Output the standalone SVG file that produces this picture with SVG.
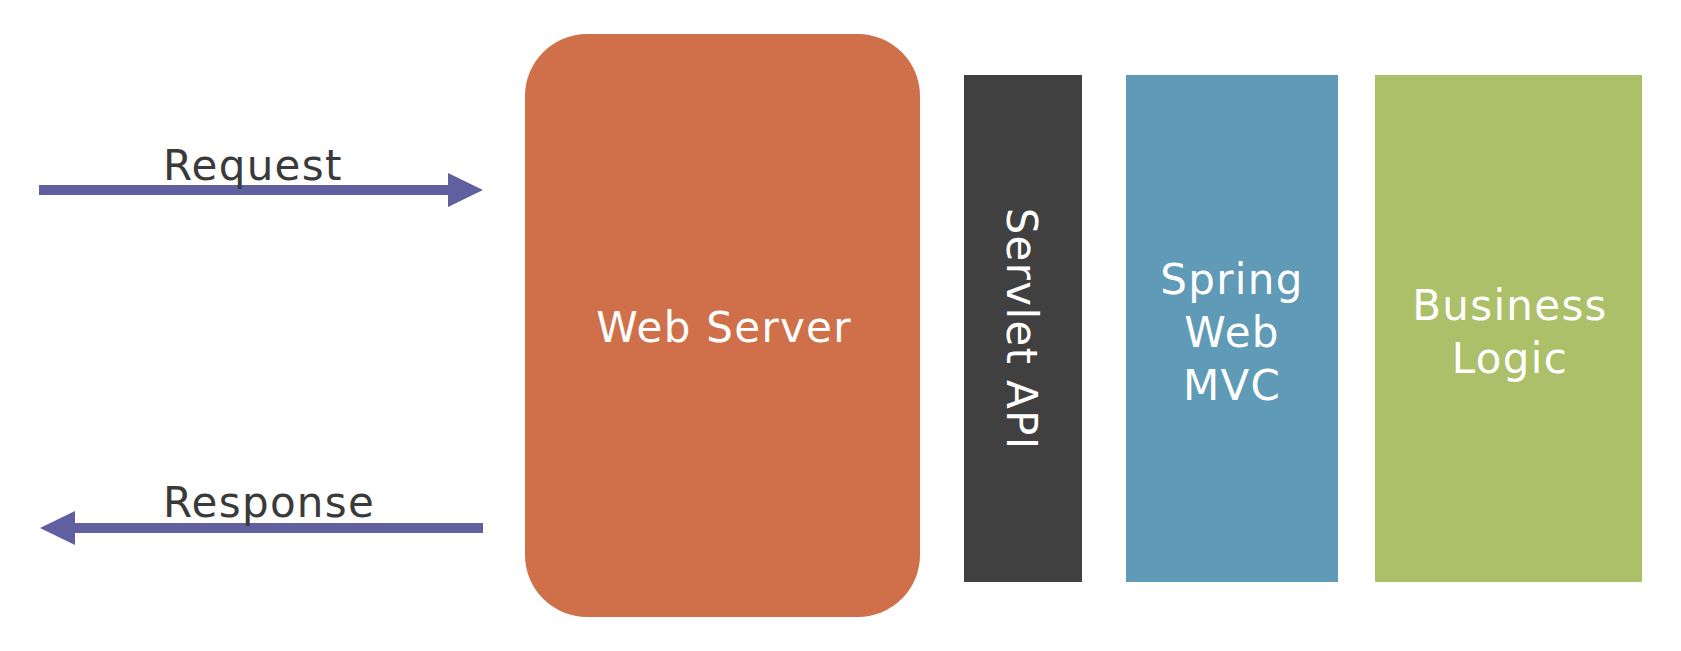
<svg xmlns="http://www.w3.org/2000/svg" width="1681" height="651" viewBox="0 0 1681 651">
  <defs>
    <marker id="head" markerUnits="userSpaceOnUse" markerWidth="35" markerHeight="34" refX="0" refY="17" orient="auto">
      <path d="M0,0 L35,17 L0,34 Z" fill="#6060A0"/>
    </marker>
  </defs>
  <style>
    .lbl { font-family: "DejaVu Sans", "Liberation Sans", sans-serif; font-size: 42px; letter-spacing: 1.3px; }
    .dark { fill: #3A3A3A; }
    .white { fill: #FFFFFF; text-anchor: middle; }
    .conn { stroke: #6060A0; stroke-width: 10; fill: none; marker-end: url(#head); }
  </style>
  <rect x="0" y="0" width="1681" height="651" fill="#FFFFFF"/>

  <g id="connectors">
    <line class="conn" x1="39" y1="190" x2="448" y2="190"/>
    <line class="conn" x1="483" y1="528" x2="75" y2="528"/>
    <text class="lbl dark" x="163" y="180">Request</text>
    <text class="lbl dark" x="163" y="517">Response</text>
  </g>

  <g id="web-server">
    <rect x="525" y="34" width="395" height="583" rx="62" ry="62" fill="#D0704A"/>
    <text class="lbl white" x="724" y="342">Web Server</text>
  </g>

  <g id="servlet-api">
    <rect x="964" y="75" width="118" height="507" fill="#404040"/>
    <text class="lbl white" transform="translate(1007,329) rotate(90)" x="0" y="0">Servlet API</text>
  </g>

  <g id="spring-web-mvc">
    <rect x="1126" y="75" width="212" height="507" fill="#5F9AB6"/>
    <text class="lbl white" x="1232" y="294">Spring</text>
    <text class="lbl white" x="1232" y="347">Web</text>
    <text class="lbl white" x="1232" y="400">MVC</text>
  </g>

  <g id="business-logic">
    <rect x="1375" y="75" width="267" height="507" fill="#ABC068"/>
    <text class="lbl white" x="1510" y="320">Business</text>
    <text class="lbl white" x="1510" y="373">Logic</text>
  </g>
</svg>
